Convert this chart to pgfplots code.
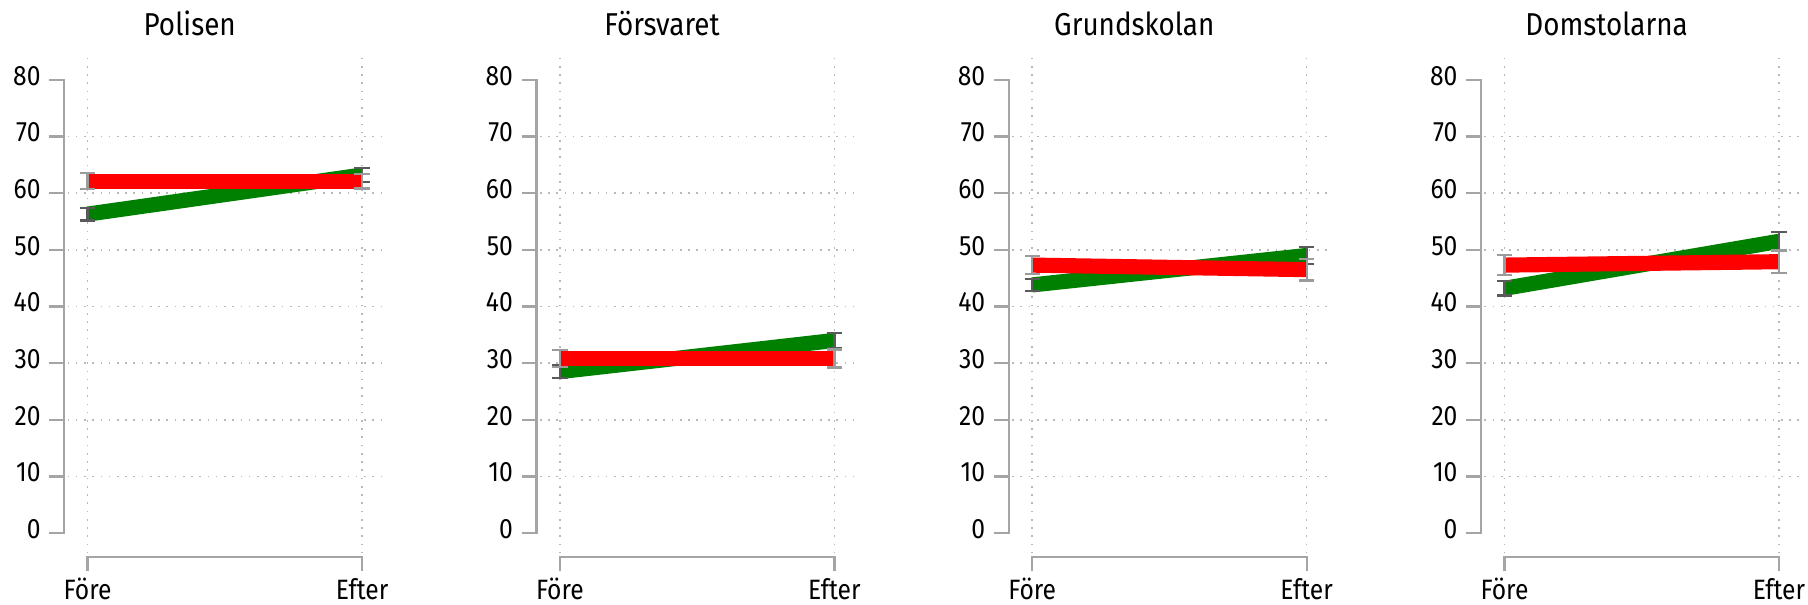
\documentclass[border=0pt]{standalone}
\usepackage{fontspec}
\setmainfont{Fira Sans}[FakeStretch=0.88]
\usepackage{pgfplots}
\pgfplotsset{compat=1.18}
\definecolor{lgreen}{RGB}{0,128,0}
\definecolor{lred}{RGB}{255,0,0}
\definecolor{axgray}{RGB}{165,165,165}
\definecolor{gridgray}{RGB}{185,185,185}
\definecolor{errdark}{RGB}{90,90,90}
\definecolor{errlight}{RGB}{155,155,155}

\pgfplotsset{
  panel/.style={
    width=96.04pt, height=151.1pt, scale only axis,
    xmin=-0.0731, xmax=1.0798, ymin=-3.6, ymax=84.27,
    xtick={0,1}, xticklabels={Före,Efter},
    ytick={0,10,...,80}, minor ytick={10,20,...,70},
    xmajorgrids, yminorgrids, ymajorgrids=false,
    grid style={gridgray, line width=0.5pt, dash pattern=on 0.5pt off 2pt},
    minor grid style={gridgray, line width=0.5pt, dash pattern=on 0.5pt off 2pt},
    axis line style={draw=none}, tick style={draw=none},
    major tick length=0pt, minor tick length=0pt,
    tick label style={font=\fontsize{8.5}{10}\selectfont},
    yticklabel style={anchor=base east, inner sep=0pt, xshift=-8pt, yshift=-1.65pt},
    xticklabel style={anchor=base, inner sep=0pt, yshift=-14pt},
    /pgf/number format/assume math mode=true,
    every axis title shift=0pt,
    title style={at={(0.386,1)}, anchor=base, yshift=6.2pt, inner sep=0pt,
      font=\fontsize{9.6}{11}\selectfont},
    clip=false,
  },
  gline/.style={lgreen, line width=4.6pt, line cap=butt, mark=none,
    error bars/.cd, y dir=both, y explicit, error mark=-,
    error bar style={errdark, line width=0.7pt},
    error mark options={rotate=90, errdark, mark size=2.3pt, line width=0.7pt}},
  rline/.style={lred, line width=4.6pt, line cap=butt, mark=none,
    error bars/.cd, y dir=both, y explicit, error mark=-,
    error bar style={errlight, line width=0.7pt},
    error mark options={rotate=90, errlight, mark size=2.3pt, line width=0.7pt}},
}

% offset axis lines (0..80 and Före..Efter only)
\newcommand\deco{%
  \draw[axgray, line width=0.7pt] (axis cs:-0.139,0) -- (axis cs:-0.0853,0)
    -- (axis cs:-0.0853,80) -- (axis cs:-0.139,80);
  \pgfplotsinvokeforeach{10,20,...,70}{%
    \draw[axgray, line width=0.7pt] (axis cs:-0.139,##1) -- (axis cs:-0.0853,##1);}
  \draw[axgray, line width=0.7pt] (axis cs:0,-6.66) -- (axis cs:0,-4.27)
    -- (axis cs:1,-4.27) -- (axis cs:1,-6.66);
}

\begin{document}
\begin{tikzpicture}
\path[use as bounding box] (-20.51pt,-15.4pt) rectangle (528.29pt,168pt);

\begin{axis}[panel, at={(0pt,0pt)}, title={Polisen}]
\deco
\addplot[gline] coordinates {(0,56.3) +- (0,1.1) (1,63.2) +- (0,1.2)};
\addplot[rline] coordinates {(0,62.1) +- (0,1.4) (1,62.1) +- (0,1.3)};
\end{axis}

\begin{axis}[panel, at={(143.36pt,0pt)}, title={Försvaret}]
\deco
\addplot[gline] coordinates {(0,28.5) +- (0,1.1) (1,34.0) +- (0,1.3)};
\addplot[rline] coordinates {(0,30.8) +- (0,1.5) (1,30.8) +- (0,1.6)};
\end{axis}

\begin{axis}[panel, at={(286.72pt,0pt)}, title={Grundskolan}]
\deco
\addplot[gline] coordinates {(0,43.8) +- (0,1.1) (1,49.0) +- (0,1.5)};
\addplot[rline] coordinates {(0,47.3) +- (0,1.6) (1,46.5) +- (0,1.9)};
\end{axis}

\begin{axis}[panel, at={(430.08pt,0pt)}, title={Domstolarna}]
\deco
\addplot[gline] coordinates {(0,43.2) +- (0,1.25) (1,51.5) +- (0,1.6)};
\addplot[rline] coordinates {(0,47.3) +- (0,1.75) (1,47.9) +- (0,2.0)};
\end{axis}
\end{tikzpicture}
\end{document}
